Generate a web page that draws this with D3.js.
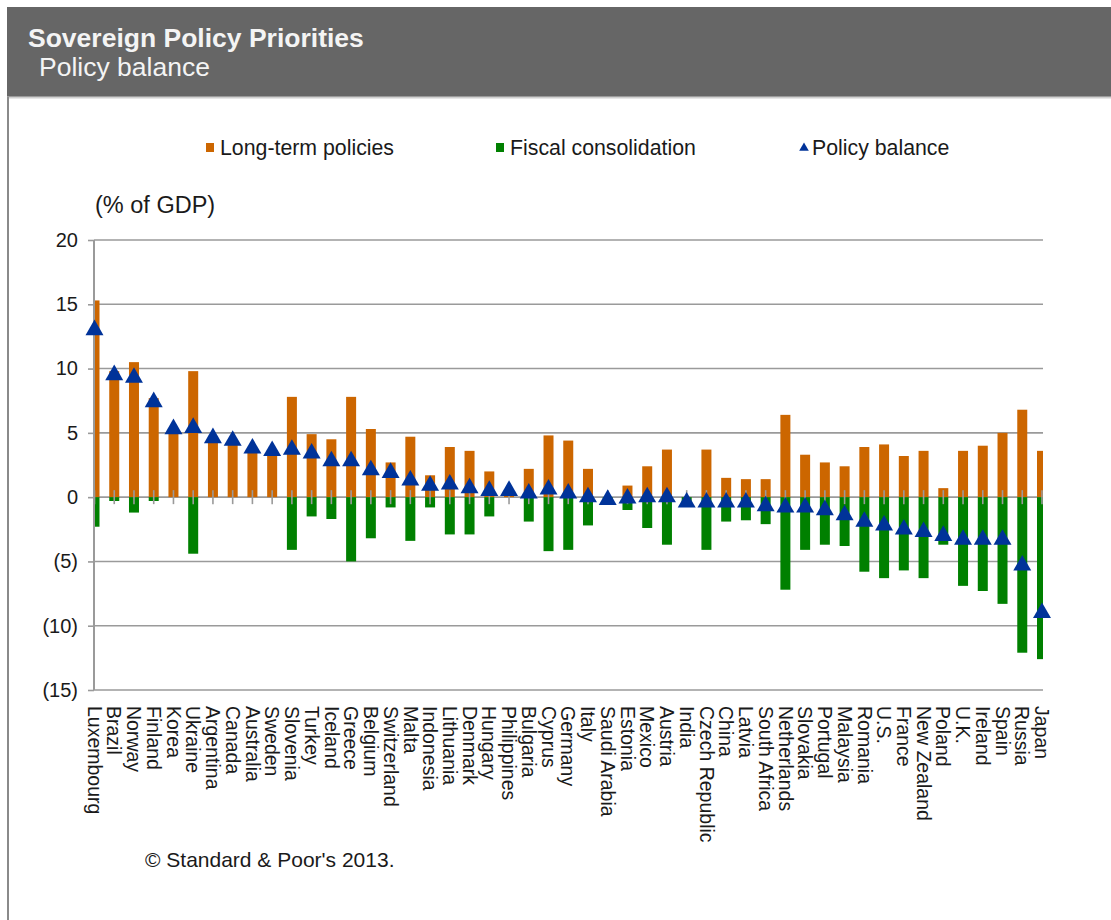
<!DOCTYPE html>
<html>
<head>
<meta charset="utf-8">
<script src="https://cdn.jsdelivr.net/npm/d3@7/dist/d3.min.js"></script>
<style>
  html, body { margin: 0; padding: 0; background: #fff; }
  svg { display: block; font-family: "Liberation Sans", Arial, sans-serif; }
</style>
</head>
<body>
<svg id="chart" width="1111" height="920"></svg>
<script>
// Countries, ordered by policy balance
const countries = ["Luxembourg","Brazil","Norway","Finland","Korea","Ukraine","Argentina","Canada","Australia","Sweden",
  "Slovenia","Turkey","Iceland","Greece","Belgium","Switzerland","Malta","Indonesia","Lithuania","Denmark",
  "Hungary","Philippines","Bulgaria","Cyprus","Germany","Italy","Saudi Arabia","Estonia","Mexico","Austria",
  "India","Czech Republic","China","Latvia","South Africa","Netherlands","Slovakia","Portugal","Malaysia","Romania",
  "U.S.","France","New Zealand","Poland","U.K.","Ireland","Spain","Russia","Japan"];

// Long-term policies (% of GDP)
const longTerm = [15.3,9.8,10.5,7.7,5.3,9.8,4.6,4.4,3.8,3.6,
  7.8,4.9,4.5,7.8,5.3,2.7,4.7,1.7,3.9,3.6,
  2.0,0.5,2.2,4.8,4.4,2.2,0.0,0.9,2.4,3.7,
  0.0,3.7,1.5,1.4,1.4,6.4,3.3,2.7,2.4,3.9,
  4.1,3.2,3.6,0.7,3.6,4.0,5.0,6.8,3.6];

// Fiscal consolidation (% of GDP)
const fiscal = [-2.3,-0.3,-1.2,-0.3,0.0,-4.4,0.0,0.0,0.0,0.0,
  -4.1,-1.5,-1.7,-5.0,-3.2,-0.8,-3.4,-0.8,-2.9,-2.9,
  -1.5,0.0,-1.9,-4.2,-4.1,-2.2,-0.2,-1.0,-2.4,-3.7,
  -0.4,-4.1,-1.9,-1.8,-2.1,-7.2,-4.1,-3.7,-3.8,-5.8,
  -6.3,-5.7,-6.3,-3.7,-6.9,-7.3,-8.3,-12.1,-12.6];

// Policy balance (% of GDP)
const balance = [13.0,9.5,9.3,7.4,5.3,5.4,4.6,4.4,3.8,3.6,
  3.7,3.4,2.8,2.8,2.1,1.9,1.3,0.9,1.0,0.7,
  0.5,0.5,0.3,0.6,0.3,0.0,-0.2,-0.1,0.0,0.0,
  -0.4,-0.4,-0.4,-0.4,-0.7,-0.8,-0.8,-1.0,-1.4,-1.9,
  -2.2,-2.5,-2.7,-3.0,-3.3,-3.3,-3.3,-5.3,-9.0];

const yTicks = [20, 15, 10, 5, 0, -5, -10, -15];
const seriesNames = ["Long-term policies", "Fiscal consolidation", "Policy balance"];

const colors = { longTerm: "#CC6600", fiscal: "#008000", balance: "#003399" };

const svg = d3.select("#chart");

// Header band
svg.append("rect").attr("x", 7).attr("y", 7).attr("width", 1104).attr("height", 90).attr("fill", "#666666");
svg.append("line").attr("x1", 7).attr("x2", 1111).attr("y1", 97.5).attr("y2", 97.5)
  .attr("stroke", "#d0d0d0").attr("stroke-width", 2);
svg.append("line").attr("x1", 8).attr("x2", 8).attr("y1", 97).attr("y2", 920)
  .attr("stroke", "#8a8a8a").attr("stroke-width", 2);

svg.append("text").attr("x", 28).attr("y", 47).attr("fill", "#f4f4f4")
  .attr("font-size", 26.5).attr("font-weight", "bold").text("Sovereign Policy Priorities");
svg.append("text").attr("x", 39).attr("y", 76).attr("fill", "#f4f4f4")
  .attr("font-size", 26.5).text("Policy balance");

// Scales
const plot = { left: 94, right: 1043, top: 240, bottom: 690 };
const x = d3.scalePoint().domain(countries).range([94.5, 1042]);
const y = d3.scaleLinear().domain([-15, 20]).range([plot.bottom, plot.top]);
const barW = 10;

// Gridlines
svg.append("g").selectAll("line").data(yTicks).join("line")
  .attr("x1", plot.left).attr("x2", plot.right)
  .attr("y1", d => y(d)).attr("y2", d => y(d))
  .attr("stroke", "#9a9a9a").attr("stroke-width", 1.6);

// Y axis
const yAxis = d3.axisLeft(y).tickValues(yTicks).tickSize(6).tickPadding(10)
  .tickFormat(d => d < 0 ? "(" + Math.abs(d) + ")" : String(d));
const gy = svg.append("g").attr("transform", `translate(${plot.left},0)`).call(yAxis);
gy.select(".domain").attr("stroke", "#9a9a9a").attr("stroke-width", 2)
  .attr("d", `M0,${plot.top}V${plot.bottom}`);
gy.selectAll(".tick line").attr("stroke", "#9a9a9a").attr("stroke-width", 1.6);
gy.selectAll(".tick text").attr("font-size", 20).attr("fill", "#1a1a1a")
  .attr("font-family", "Liberation Sans, Arial, sans-serif");

svg.append("text").attr("x", 95).attr("y", 213).attr("font-size", 23.5).attr("fill", "#1a1a1a")
  .text("(% of GDP)");

// Bars, clipped to the plot area
svg.append("clipPath").attr("id", "plotClip").append("rect")
  .attr("x", plot.left + 1).attr("y", plot.top - 20).attr("width", plot.right - plot.left - 1)
  .attr("height", plot.bottom - plot.top + 40);

const bars = svg.append("g").attr("clip-path", "url(#plotClip)");
bars.selectAll("rect.lt").data(countries).join("rect").attr("class", "lt")
  .attr("x", d => x(d) - barW / 2).attr("width", barW)
  .attr("y", (d, i) => y(Math.max(0, longTerm[i])))
  .attr("height", (d, i) => Math.abs(y(longTerm[i]) - y(0)))
  .attr("fill", colors.longTerm);
bars.selectAll("rect.fc").data(countries).join("rect").attr("class", "fc")
  .attr("x", d => x(d) - barW / 2).attr("width", barW)
  .attr("y", (d, i) => y(Math.max(0, fiscal[i])))
  .attr("height", (d, i) => Math.abs(y(fiscal[i]) - y(0)))
  .attr("fill", colors.fiscal);

// Category ticks crossing the zero line
bars.selectAll("line.ct").data(countries).join("line").attr("class", "ct")
  .attr("x1", d => x(d)).attr("x2", d => x(d))
  .attr("y1", y(0) - 7).attr("y2", y(0) + 7)
  .attr("stroke", "#9a9a9a").attr("stroke-width", 1.6);

// Policy balance markers (drawn unclipped)
const tri = d3.symbol().type(d3.symbolTriangle).size(140);
svg.append("g").selectAll("path.pb").data(countries).join("path").attr("class", "pb")
  .attr("d", tri)
  .attr("transform", (d, i) => `translate(${x(d)},${y(balance[i])})`)
  .attr("fill", colors.balance);

// Category labels
svg.append("g").selectAll("text").data(countries).join("text")
  .attr("transform", d => `translate(${x(d)},706) rotate(90)`)
  .attr("dy", "0.35em").attr("font-size", 19.5).attr("fill", "#1a1a1a")
  .text(d => d);

// Legend
const legend = svg.append("g");
const legendX = [206, 496, 800];
legend.append("rect").attr("x", legendX[0]).attr("y", 143).attr("width", 8).attr("height", 9).attr("fill", colors.longTerm);
legend.append("rect").attr("x", legendX[1]).attr("y", 143).attr("width", 8).attr("height", 9).attr("fill", colors.fiscal);
legend.append("path").attr("d", d3.symbol().type(d3.symbolTriangle).size(40))
  .attr("transform", `translate(${legendX[2] + 4},148)`).attr("fill", colors.balance);
legend.selectAll("text").data(seriesNames).join("text")
  .attr("x", (d, i) => legendX[i] + (i === 2 ? 12 : 14)).attr("y", 155)
  .attr("font-size", 21.3).attr("fill", "#1a1a1a").text(d => d);

// Source note
svg.append("text").attr("x", 145).attr("y", 867).attr("font-size", 21).attr("fill", "#1a1a1a")
  .text("\u00A9 Standard & Poor's 2013.");
</script>
</body>
</html>
